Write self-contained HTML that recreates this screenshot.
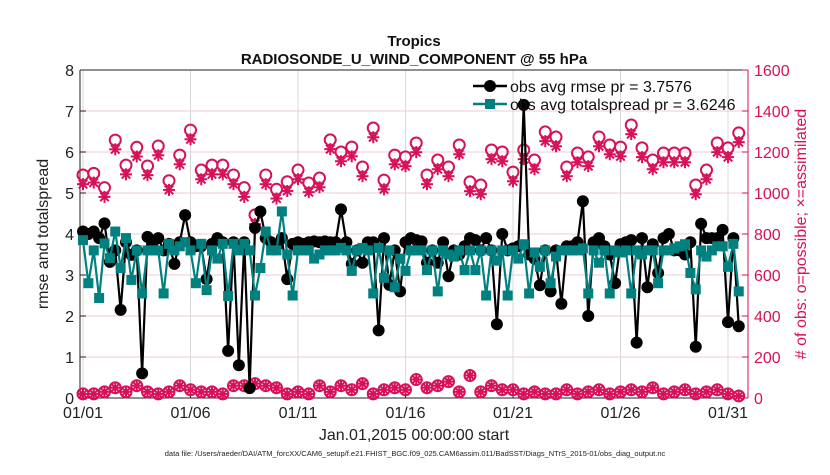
<!DOCTYPE html>
<html><head><meta charset="utf-8"><style>
body{margin:0;background:#fff;font-family:"Liberation Sans",sans-serif}
svg text{font-family:"Liberation Sans",sans-serif}
</style></head><body>
<svg id="c" width="830" height="470" xmlns="http://www.w3.org/2000/svg"></svg>
<script>
const xTickLabels=["01/01","01/06","01/11","01/16","01/21","01/26","01/31"];
const xTickDays=[0,5,10,15,20,25,30];
const yLeftTicks=[0,1,2,3,4,5,6,7,8];
const yRightTicks=[0,200,400,600,800,1000,1200,1400,1600];
const rmse=[4.06,4.0,4.06,3.9,4.26,3.32,3.6,2.15,3.8,3.49,3.6,0.6,3.93,3.8,3.9,3.6,
3.76,3.27,3.8,4.46,3.8,3.7,3.7,2.9,3.76,3.9,3.8,1.15,3.8,0.8,3.8,0.24,
4.15,4.55,3.9,3.8,3.7,3.9,2.9,3.76,3.8,3.76,3.8,3.82,3.8,3.82,3.8,
3.8,4.6,3.8,3.27,3.6,3.3,3.8,3.8,1.65,3.9,2.76,3.6,2.6,3.8,3.9,
3.85,3.82,3.3,3.6,3.3,3.8,2.97,3.6,3.5,3.7,3.9,3.85,3.6,3.9,3.6,1.8,4.0,
3.6,3.65,3.7,7.15,3.5,3.4,2.75,3.6,2.6,3.6,2.3,3.7,3.7,3.8,4.8,
2.0,3.8,3.9,3.7,3.5,2.8,3.75,3.8,3.85,1.35,3.9,2.7,3.75,3.05,3.9,4.0,
3.6,3.6,3.5,3.8,1.25,4.25,3.9,3.9,3.9,4.1,1.85,3.9,1.75];
const spread=[3.85,2.8,3.6,2.44,3.77,3.41,4.06,3.17,3.9,2.88,3.6,2.55,3.6,3.6,3.6,2.55,
3.76,3.6,3.7,3.8,3.6,2.8,3.76,2.63,3.6,3.4,3.76,2.49,3.76,3.6,3.76,3.6,
2.5,3.17,4.06,3.6,3.6,4.55,3.5,2.5,3.6,3.6,3.6,3.4,3.5,3.6,3.6,
3.6,3.66,3.6,3.1,3.6,3.66,3.6,2.55,3.66,2.93,3.6,2.7,3.4,3.1,3.6,
3.6,3.6,3.12,3.6,2.6,3.6,3.5,3.45,3.6,3.12,3.6,3.12,3.6,2.5,3.6,3.35,3.6,
2.5,3.6,3.4,3.75,2.55,3.55,3.2,3.6,2.8,3.45,3.6,3.6,3.6,3.6,3.65,
2.55,3.6,3.3,3.6,2.55,3.6,3.55,3.6,2.55,3.6,3.5,3.6,3.6,2.8,3.6,3.6,
3.65,3.7,3.75,3.05,2.65,3.6,3.45,3.6,3.7,3.7,3.2,3.76,2.6];
const possible=[1088,1096,1026,1258,1136,1223,1132,1229,1060,1185,1307,1112,1136,1136,1088,1026,893,1088,1018,1055,1112,1049,1073,1259,1200,1224,1127,1317,1063,1185,1176,1244,1088,1161,1127,1234,1054,1039,1210,1200,1102,1210,1161,1298,1273,1127,1195,1176,1273,1234,1224,1332,1220,1161,1195,1195,1195,1039,1112,1244,1220,1293];
const assimilated=[1043,1051,981,1213,1091,1178,1087,1184,1015,1140,1262,1067,1091,1091,1043,981,848,1043,973,1010,1067,1004,1028,1214,1155,1179,1082,1272,1018,1140,1131,1199,1043,1116,1082,1189,1009,994,1165,1155,1057,1165,1116,1253,1228,1082,1150,1131,1228,1189,1179,1287,1175,1116,1150,1150,1150,994,1067,1199,1175,1248];
const possibleLow=[20,20,30,50,30,60,30,20,30,60,40,30,30,20,60,60,70,60,50,20,30,20,60,30,60,40,70,20,40,50,40,90,50,60,80,30,110,30,60,40,40,20,30,20,20,40,20,30,40,20,30,40,30,50,20,30,40,20,30,40,20,10];
const assimLow=[20,20,30,50,30,60,30,20,30,60,40,30,30,20,60,60,70,60,50,20,30,20,60,30,60,40,70,20,40,50,40,90,50,60,80,30,110,30,60,40,40,20,30,20,20,40,20,30,40,20,30,40,30,50,20,30,40,20,30,40,20,10];

const L=80,R=748,T=70,B=398;
const xDay=d=>83+d*21.5;
const xi=i=>xDay(i*0.5);
const xq=i=>xDay(i*0.25);
const yL=v=>B-(v/8)*(B-T);
const yR=v=>B-(v/1600)*(B-T);
const PINK="#d6115a",TEAL="#00807f";
const svg=document.getElementById('c');
const NS="http://www.w3.org/2000/svg";
function mk(tag,attrs,parent){const e=document.createElementNS(NS,tag);for(const k in attrs)e.setAttribute(k,attrs[k]);(parent||svg).appendChild(e);return e;}
function txt(s,attrs,parent){const e=mk('text',attrs,parent);e.textContent=s;return e;}

const grid=mk('g',{});


yLeftTicks.forEach(v=>{if(v>0&&v<8)mk('line',{x1:L,x2:R,y1:yL(v),y2:yL(v),stroke:"#f0c8d8","stroke-width":1},grid);});
xTickDays.forEach(d=>{mk('line',{x1:xDay(d),x2:xDay(d),y1:T,y2:B,stroke:"#d8d8d8","stroke-width":1},grid);});

const ax=mk('g',{});


mk('line',{x1:L,x2:R,y1:T,y2:T,stroke:"#222","stroke-width":1},ax);
mk('line',{x1:L,x2:R,y1:B,y2:B,stroke:"#222","stroke-width":1},ax);
mk('line',{x1:L,x2:L,y1:T,y2:B,stroke:"#222","stroke-width":1},ax);
mk('line',{x1:R,x2:R,y1:T,y2:B,stroke:PINK,"stroke-width":1},ax);

yLeftTicks.forEach(v=>{
 mk('line',{x1:L,x2:L+6,y1:yL(v),y2:yL(v),stroke:"#222"},ax);
 const t=txt(String(v),{x:L-6,y:yL(v)+6,"text-anchor":"end","font-size":16,fill:"#222"},ax);
 
 
});
yRightTicks.forEach(v=>{
 mk('line',{x1:R-6,x2:R,y1:yR(v),y2:yR(v),stroke:PINK},ax);
 const t=txt(String(v),{x:R+6,y:yR(v)+6,"text-anchor":"start","font-size":16,fill:PINK},ax);
 
 
});
xTickDays.forEach((d,k)=>{
 mk('line',{x1:xDay(d),x2:xDay(d),y1:B,y2:B-6,stroke:"#222"},ax);
 const t=txt(xTickLabels[k],{x:xDay(d),y:B+20,"text-anchor":"middle","font-size":16,fill:"#222"},ax);
 
 
});

function star(g,x,y){
 const r=6;
 for(let a=0;a<4;a++){const an=a*Math.PI/4;mk('line',{x1:x-r*Math.cos(an),y1:y-r*Math.sin(an),x2:x+r*Math.cos(an),y2:y+r*Math.sin(an),stroke:PINK,"stroke-width":2},g);}
}
const gObs=mk('g',{});


possible.forEach((v,i)=>{mk('circle',{cx:xi(i),cy:yR(v),r:5.5,fill:"none",stroke:PINK,"stroke-width":2},gObs);});
assimilated.forEach((v,i)=>{star(gObs,xi(i),yR(v));});
possibleLow.forEach((v,i)=>{mk('circle',{cx:xi(i),cy:yR(v),r:5.5,fill:"none",stroke:PINK,"stroke-width":2},gObs);});
assimLow.forEach((v,i)=>{star(gObs,xi(i),yR(v));});

const gR=mk('g',{});


mk('polyline',{points:rmse.map((v,i)=>xq(i)+","+yL(v)).join(" "),fill:"none",stroke:"#000","stroke-width":2.2},gR);
rmse.forEach((v,i)=>{const c=mk('circle',{cx:xq(i),cy:yL(v),r:6,fill:"#000"},gR);});

const gS=mk('g',{});


mk('polyline',{points:spread.map((v,i)=>xq(i)+","+yL(v)).join(" "),fill:"none",stroke:TEAL,"stroke-width":2.2},gS);
spread.forEach((v,i)=>{const c=mk('rect',{x:xq(i)-5,y:yL(v)-5,width:10,height:10,fill:TEAL},gS);});

const lg=mk('g',{});


mk('line',{x1:473,x2:507,y1:86,y2:86,stroke:"#000","stroke-width":2.5},lg);
mk('circle',{cx:490,cy:86,r:6,fill:"#000"},lg);
txt("obs avg rmse pr = 3.7576",{x:510,y:92,"font-size":16,fill:"#111"},lg);
mk('line',{x1:473,x2:507,y1:104,y2:104,stroke:TEAL,"stroke-width":2.5},lg);
mk('rect',{x:485,y:99,width:10,height:10,fill:TEAL},lg);
txt("obs avg totalspread pr = 3.6246",{x:510,y:110,"font-size":16,fill:"#111"},lg);

const t1=txt("Tropics",{x:414,y:46,"text-anchor":"middle","font-size":15,"font-weight":"bold",fill:"#111"});

const t2=txt("RADIOSONDE_U_WIND_COMPONENT @ 55 hPa",{x:414,y:64,"text-anchor":"middle","font-size":15,"font-weight":"bold",fill:"#111"});

const xl=txt("Jan.01,2015 00:00:00 start",{x:414,y:440,"text-anchor":"middle","font-size":16,fill:"#222"});

const yl=txt("rmse and totalspread",{x:0,y:0,"text-anchor":"middle","font-size":16,fill:"#222",transform:"translate(48,234) rotate(-90)"});

const yr=txt("# of obs: o=possible; \u00d7=assimilated",{x:0,y:0,"text-anchor":"middle","font-size":16,fill:PINK,transform:"translate(806,234) rotate(-90)"});

const fn=txt("data file: /Users/raeder/DAI/ATM_forcXX/CAM6_setup/f.e21.FHIST_BGC.f09_025.CAM6assim.011/BadSST/Diags_NTrS_2015-01/obs_diag_output.nc",{x:415,y:456,"text-anchor":"middle","font-size":7.5,fill:"#222"});

</script>
</body></html>
